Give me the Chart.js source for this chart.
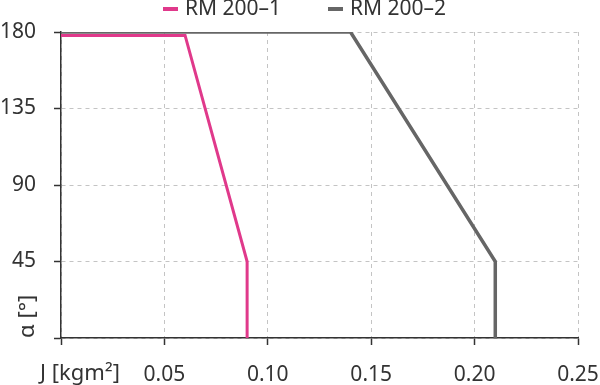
<!DOCTYPE html>
<html>
<head>
<meta charset="utf-8">
<script src="https://cdn.jsdelivr.net/npm/chart.js@4/dist/chart.umd.min.js"></script>
<style>
    html, body { margin: 0; padding: 0; background: #fff; }
    #wrap { width: 600px; height: 385px; }
</style>
</head>
<body>
<div id="wrap"><canvas id="chart"></canvas></div>
<script>
// DONNÉES
const seriesLabels = ['RM 200–1', 'RM 200–2'];
const seriesColors = ['#e0398b', '#666666'];
const j1 = [0, 0.06, 0.09, 0.09];
const alpha1 = [178, 178, 45, 0];
const j2 = [0, 0.14, 0.21, 0.21];
const alpha2 = [180, 180, 45, 0];
const xTicks = [0, 0.05, 0.10, 0.15, 0.20, 0.25];
const yTicks = [0, 45, 90, 135, 180];
const xUnit = 'J [kgm²]';
const yUnit = 'α [°]';

const FONT = '"Noto Sans", sans-serif';
const TEXT = '#333333';

function toPoints(xs, ys) {
    return xs.map((x, i) => ({ x: x, y: ys[i] }));
}

// Légende dessinée à la main (tirets + texte)
const legendPlugin = {
    id: 'customLegend',
    afterDraw(chart) {
        const ctx = chart.ctx;
        ctx.save();
        ctx.font = '21px ' + FONT;
        ctx.textBaseline = 'middle';
        ctx.textAlign = 'left';
        const starts = [163, 328];
        chart.data.datasets.forEach((ds, i) => {
            const x = starts[i];
            ctx.fillStyle = ds.borderColor;
            ctx.fillRect(x, 7, 15, 4);
            ctx.fillStyle = TEXT;
            ctx.fillText(ds.label, x + 22, 9);
        });
        ctx.restore();
    }
};

// Unité de l'axe X à la place du 0
const unitPlugin = {
    id: 'xUnit',
    afterDraw(chart) {
        const ctx = chart.ctx;
        ctx.save();
        ctx.font = '22px ' + FONT;
        ctx.fillStyle = TEXT;
        ctx.textAlign = 'center';
        ctx.textBaseline = 'middle';
        ctx.fillText(xUnit, 80, 374);
        ctx.restore();
    }
};

const ctx = document.getElementById('chart').getContext('2d');
new Chart(ctx, {
    type: 'line',
    data: {
        datasets: [
            {
                label: seriesLabels[0],
                data: toPoints(j1, alpha1),
                borderColor: seriesColors[0],
                borderWidth: 3,
                pointRadius: 0,
                tension: 0
            },
            {
                label: seriesLabels[1],
                data: toPoints(j2, alpha2),
                borderColor: seriesColors[1],
                borderWidth: 3.5,
                pointRadius: 0,
                tension: 0
            }
        ]
    },
    options: {
        responsive: true,
        maintainAspectRatio: false,
        animation: false,
        layout: { padding: { top: 32, right: 0, left: 0, bottom: 0 } },
        plugins: {
            legend: { display: false },
            tooltip: { enabled: false }
        },
        scales: {
            x: {
                type: 'linear',
                min: 0,
                max: 0.25,
                afterBuildTicks: axis => { axis.ticks = xTicks.map(v => ({ value: v })); },
                afterFit: axis => {
                    axis.height = 47;
                    axis.paddingLeft = 0;
                    axis.paddingRight = 22;
                },
                ticks: {
                    color: TEXT,
                    font: { family: FONT, size: 21 },
                    padding: 17,
                    maxRotation: 0,
                    callback: v => v === 0 ? '' : v.toFixed(2)
                },
                grid: {
                    color: '#c4c4c4',
                    lineWidth: 1,
                    tickColor: TEXT,
                    tickLength: 7,
                    tickWidth: 1.5,
                    tickBorderDash: [],
                    drawTicks: true
                },
                border: { display: true, color: TEXT, width: 1.5, dash: [4, 4] }
            },
            y: {
                type: 'linear',
                min: 0,
                max: 180,
                afterBuildTicks: axis => { axis.ticks = yTicks.map(v => ({ value: v })); },
                afterFit: axis => { axis.width = 61; },
                ticks: {
                    color: TEXT,
                    font: { family: FONT, size: 21 },
                    padding: 18,
                    callback: v => v === 0 ? '' : String(v)
                },
                grid: {
                    color: '#c4c4c4',
                    lineWidth: 1,
                    tickColor: TEXT,
                    tickLength: 7,
                    tickWidth: 1.5,
                    tickBorderDash: []
                },
                border: { display: true, color: TEXT, width: 1.5, dash: [4, 4] },
                title: {
                    display: true,
                    text: yUnit,
                    align: 'start',
                    color: TEXT,
                    font: { family: FONT, size: 22 },
                    padding: { top: 15, bottom: 0 }
                }
            }
        }
    },
    plugins: [legendPlugin, unitPlugin]
});
</script>
</body>
</html>
